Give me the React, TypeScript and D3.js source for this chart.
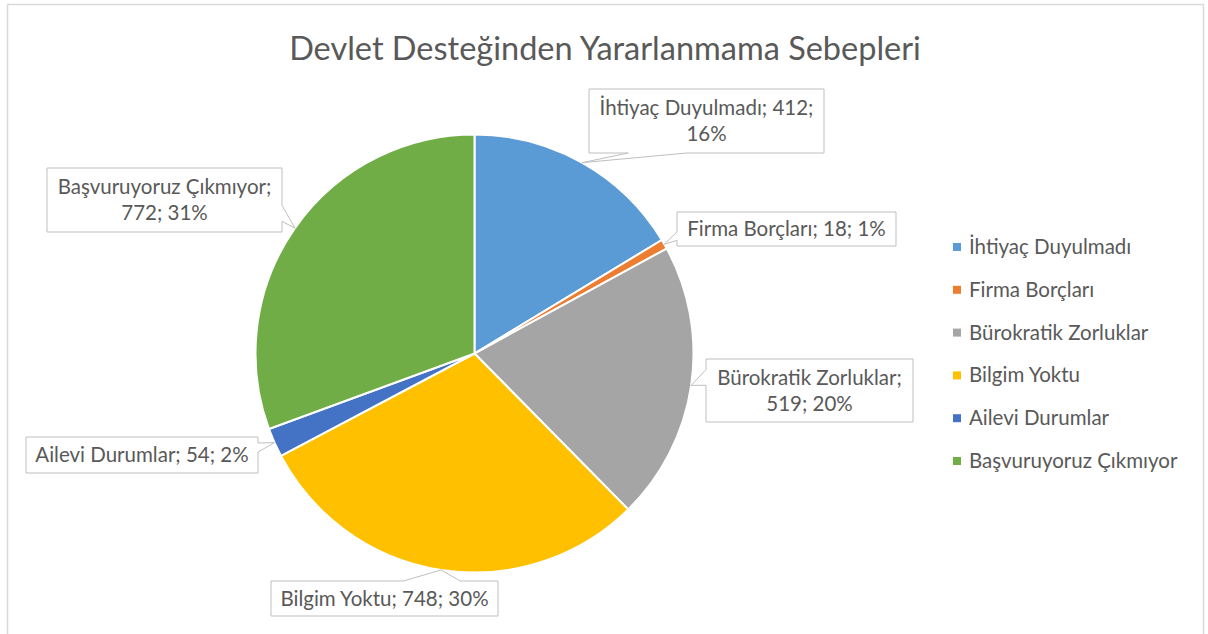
import React from "react";
import * as d3 from "d3";

const categories = [
  "İhtiyaç Duyulmadı",
  "Firma Borçları",
  "Bürokratik Zorluklar",
  "Bilgim Yoktu",
  "Ailevi Durumlar",
  "Başvuruyoruz Çıkmıyor",
];
const values = [412, 18, 519, 748, 54, 772];
const percents = [16, 1, 20, 30, 2, 31];
const colors = ["#5B9BD5", "#ED7D31", "#A5A5A5", "#FFC000", "#4472C4", "#70AD47"];
const title = "Devlet Desteğinden Yararlanmama Sebepleri";

// where each data label box sits, and how many parts go on its first line
const labelBoxes = [
  { x: 589, y: 89, w: 235, h: 64, firstLine: 2 },
  { x: 677, y: 212, w: 219, h: 34, firstLine: 3 },
  { x: 706, y: 359, w: 207, h: 63, firstLine: 1 },
  { x: 271, y: 581, w: 227, h: 35, firstLine: 3 },
  { x: 26, y: 437, w: 232, h: 36, firstLine: 3 },
  { x: 47, y: 168, w: 235, h: 64, firstLine: 1 },
];

const W = 1208;
const H = 634;
const cx = 474.5;
const cy = 353.5;
const radius = 219;
const FONT = "Lato, 'Open Sans', sans-serif";
const TEXT = "#595959";
const LABEL_SIZE = 20.5;

type Box = { x: number; y: number; w: number; h: number };

function calloutPath(b: Box, tip: [number, number]) {
  const mx = b.x + b.w / 2;
  const my = b.y + b.h / 2;
  const dx = (tip[0] - mx) / (b.w / 2);
  const dy = (tip[1] - my) / (b.h / 2);
  const inside = Math.abs(dx) <= 1 && Math.abs(dy) <= 1;
  const side = inside ? "none" : Math.abs(dx) > Math.abs(dy) ? (dx > 0 ? "right" : "left") : dy > 0 ? "bottom" : "top";
  const fx = tip[0] < mx ? [2 / 12, 5 / 12] : [7 / 12, 10 / 12];
  const fy = tip[1] < my ? [2 / 12, 5 / 12] : [7 / 12, 10 / 12];
  const p = d3.path();
  const { x, y, w, h } = b;
  p.moveTo(x, y);
  if (side === "top") {
    p.lineTo(x + w * fx[0], y);
    p.lineTo(tip[0], tip[1]);
    p.lineTo(x + w * fx[1], y);
  }
  p.lineTo(x + w, y);
  if (side === "right") {
    p.lineTo(x + w, y + h * fy[0]);
    p.lineTo(tip[0], tip[1]);
    p.lineTo(x + w, y + h * fy[1]);
  }
  p.lineTo(x + w, y + h);
  if (side === "bottom") {
    p.lineTo(x + w * fx[1], y + h);
    p.lineTo(tip[0], tip[1]);
    p.lineTo(x + w * fx[0], y + h);
  }
  p.lineTo(x, y + h);
  if (side === "left") {
    p.lineTo(x, y + h * fy[1]);
    p.lineTo(tip[0], tip[1]);
    p.lineTo(x, y + h * fy[0]);
  }
  p.closePath();
  return p.toString();
}

export default function App() {
  const pie = d3
    .pie<number>()
    .sort(null)
    .value((d) => d);
  const arcs = pie(values);
  const arc = d3
    .arc<d3.PieArcDatum<number>>()
    .innerRadius(0)
    .outerRadius(radius);

  const legendY = d3
    .scalePoint<number>()
    .domain(d3.range(categories.length))
    .range([247, 461]);

  return (
    <div style={{ position: "absolute", left: 0, top: 0 }}>
      <svg width={W} height={H} style={{ display: "block", fontFamily: FONT }}>
        <rect x={0} y={0} width={W} height={H} fill="#fff" />
        <rect x={7.5} y={4.5} width={1196} height={H + 10} fill="#fff" stroke="#d9d9d9" strokeWidth={1.5} />

        <text x={605} y={60} textAnchor="middle" fontSize={32.5} fill={TEXT}>
          {title}
        </text>

        <g transform={`translate(${cx},${cy})`}>
          {arcs.map((a, i) => (
            <path key={i} d={arc(a) || ""} fill={colors[i]} stroke="#fff" strokeWidth={2} strokeLinejoin="round" />
          ))}
        </g>

        {arcs.map((a, i) => {
          const mid = (a.startAngle + a.endAngle) / 2;
          const tip: [number, number] = [cx + radius * Math.sin(mid), cy - radius * Math.cos(mid)];
          const b = labelBoxes[i];
          const parts = [categories[i], String(values[i]), `${percents[i]}%`];
          const lines: string[] = [];
          const first = parts.slice(0, b.firstLine).join("; ");
          if (b.firstLine < parts.length) {
            lines.push(first + ";");
            lines.push(parts.slice(b.firstLine).join("; "));
          } else {
            lines.push(first);
          }
          const midY = b.y + b.h / 2;
          return (
            <g key={i}>
              <path d={calloutPath(b, tip)} fill="#fff" stroke="#bfbfbf" strokeWidth={1} />
              {lines.map((t, j) => (
                <text
                  key={j}
                  x={b.x + b.w / 2}
                  y={midY + (j - (lines.length - 1) / 2) * 26 + 7}
                  textAnchor="middle"
                  fontSize={LABEL_SIZE}
                  fill={TEXT}
                >
                  {t}
                </text>
              ))}
            </g>
          );
        })}

        {categories.map((c, i) => (
          <g key={c} transform={`translate(953,${legendY(i)})`}>
            <rect x={0} y={-4} width={8} height={8} fill={colors[i]} />
            <text x={16} y={7} fontSize={LABEL_SIZE} fill={TEXT}>
              {c}
            </text>
          </g>
        ))}
      </svg>
    </div>
  );
}
